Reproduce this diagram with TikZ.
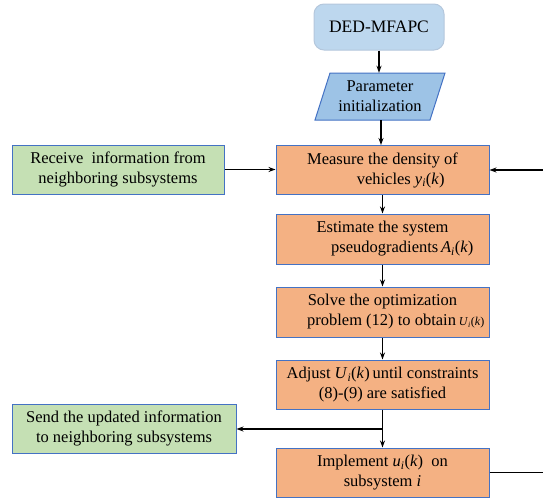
\documentclass[tikz,border=0pt]{standalone}
\usepackage{fontspec}
\setmainfont{Liberation Serif}
\usetikzlibrary{arrows.meta,calc}
\definecolor{orangefill}{HTML}{F4B183}
\definecolor{greenfill}{HTML}{C5E0B4}
\definecolor{bluefill}{HTML}{BDD7EE}
\definecolor{paramfill}{HTML}{9DC3E6}
\definecolor{boxborder}{HTML}{4472C4}
\definecolor{lightborder}{HTML}{B4C7DC}
\newcommand{\mv}[1]{\textit{#1}}
\newcommand{\sbi}{\textsubscript{\textit{i}}}
\begin{document}
\begin{tikzpicture}[x=1pt,y=-1pt,
  every node/.style={font=\fontsize{16.5}{20}\selectfont, inner sep=2pt},
  procbox/.style={draw=boxborder, fill=orangefill, line width=1pt, minimum width=213pt, minimum height=49pt, align=center},
  infobox/.style={draw=boxborder, fill=greenfill, line width=1pt, minimum height=49pt, align=center},
  startbox/.style={draw=lightborder, fill=bluefill, line width=1pt, rounded corners=10pt, minimum width=130pt, minimum height=46pt, font=\fontsize{17.5}{20}\selectfont},
  conn/.style={line width=1.3pt, -{Stealth[length=7pt,width=5pt]}},
  plainconn/.style={line width=1.3pt}
]
\useasboundingbox (0,0) rectangle (543,498);

% start
\node[startbox] (start) at (379,27) {DED-MFAPC};

% parameter initialization (parallelogram)
\filldraw[draw=boxborder, fill=paramfill, line width=1pt] (330,73) -- (445,73) -- (430,120) -- (315,120) -- cycle;
\node[align=center, minimum width=112pt, minimum height=47pt] (param) at (380,96.5) {Parameter\\initialization};

% process boxes
\node[procbox] (measure) at (382.5,170) {Measure the density of\\\hspace*{2.2em}vehicles \mv{y}\sbi(\mv{k})};
\node[procbox, minimum height=50pt] (estimate) at (382.5,239) {Estimate the system\\\hspace*{2.4em}pseudogradients\,\mv{A}\sbi(\mv{k})};
\node[procbox, minimum height=50pt] (solve) at (382.5,312) {Solve the optimization\\\hspace*{1.6em}problem (12) to obtain\,{\fontsize{12}{14}\selectfont\mv{U}\sbi(\mv{k})}};
\node[procbox] (adjust) at (382.5,384.5) {Adjust \mv{U}\sbi(\mv{k})\,until constraints\\(8)-(9) are satisfied};
\node[procbox] (implement) at (382.5,472.5) {Implement \mv{u}\sbi(\mv{k}) \ on\\subsystem \mv{i}};

% info boxes
\node[infobox, minimum width=212pt] (receive) at (118,169.5) {Receive \ information from\\neighboring subsystems};
\node[infobox, minimum width=224pt] (send) at (124,428.5) {Send the updated information\\to neighboring subsystems};

% coordinates
\coordinate (branch) at (382.5,429);
\coordinate (fbin) at (543,170);
\coordinate (fbout) at (543,472.5);

% connectors
\draw[conn] (start.south) -- (start.south |- param.north);
\draw[conn] (381,120) -- (measure.north -| 381,0);
\draw[conn] (measure) -- (estimate);
\draw[conn] (estimate) -- (solve);
\draw[conn] (solve) -- (adjust);
\draw[conn] (adjust) -- (implement);
\draw[conn] (branch) -- (send.east |- branch);
\draw[conn] (receive.east) -- (measure.west |- receive.east);
\draw[conn] (fbin) -- (measure.east);
\draw[plainconn] (implement.east) -- (fbout);
\end{tikzpicture}
\end{document}
